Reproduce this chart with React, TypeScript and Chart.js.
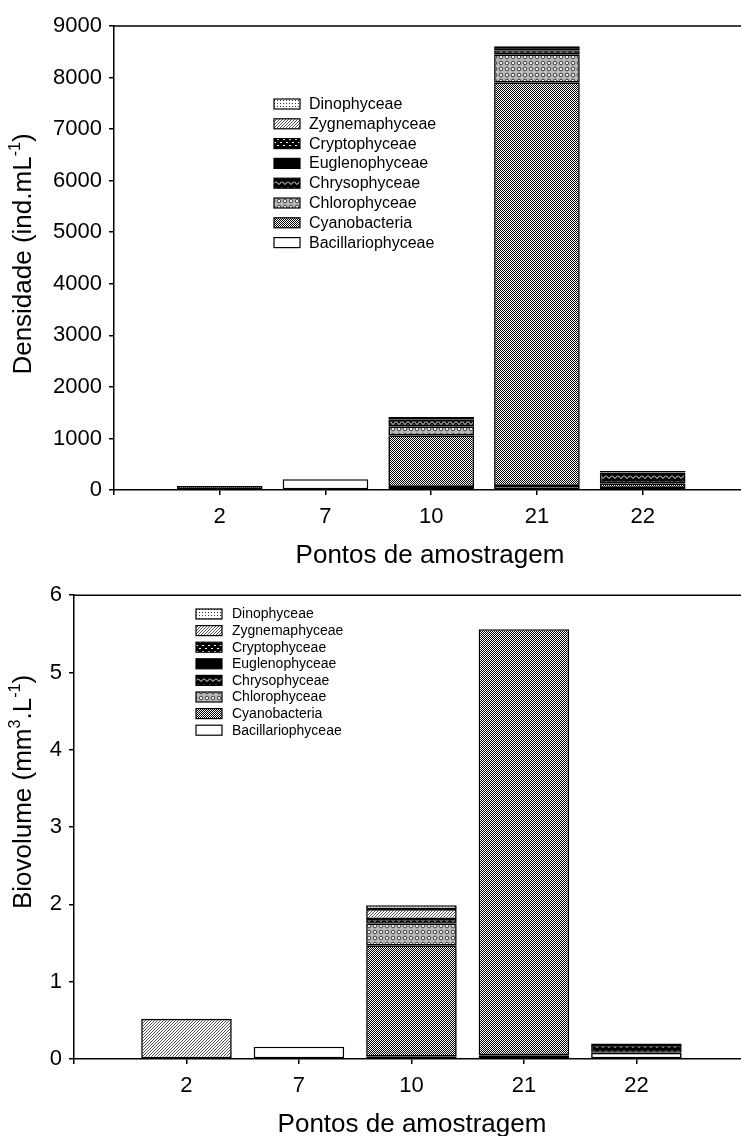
import { useEffect, useRef } from 'react';
import { Chart, registerables } from 'chart.js';

Chart.register(...registerables);

const FAMILY = '"Liberation Sans", Arial, sans-serif';

// Sampling sites along the x axis
const sites = ['2', '7', '10', '21', '22'];

// Phytoplankton groups, bottom of the stack first
const groups = [
  'Bacillariophyceae',
  'Cyanobacteria',
  'Chlorophyceae',
  'Chrysophyceae',
  'Euglenophyceae',
  'Cryptophyceae',
  'Zygnemaphyceae',
  'Dinophyceae',
];

// Density (ind.mL-1) per site
const densBacillariophyceae = [0, 210, 60, 80, 40];
const densCyanobacteria = [80, 0, 1000, 7820, 90];
const densChlorophyceae = [0, 0, 175, 550, 0];
const densChrysophyceae = [0, 0, 130, 80, 210];
const densEuglenophyceae = [0, 0, 0, 0, 0];
const densCryptophyceae = [0, 0, 50, 75, 30];
const densZygnemaphyceae = [0, 0, 0, 0, 0];
const densDinophyceae = [0, 0, 0, 0, 0];

// Biovolume (mm3.L-1) per site
const bioBacillariophyceae = [0, 0.16, 0.03, 0.05, 0.08];
const bioCyanobacteria = [0, 0, 1.44, 5.51, 0];
const bioChlorophyceae = [0, 0, 0.28, 0, 0];
const bioChrysophyceae = [0, 0, 0.06, 0, 0.1];
const bioEuglenophyceae = [0, 0, 0, 0, 0];
const bioCryptophyceae = [0, 0, 0, 0, 0.02];
const bioZygnemaphyceae = [0.52, 0, 0.13, 0, 0];
const bioDinophyceae = [0, 0, 0.05, 0, 0];

const densSeries = [
  densBacillariophyceae,
  densCyanobacteria,
  densChlorophyceae,
  densChrysophyceae,
  densEuglenophyceae,
  densCryptophyceae,
  densZygnemaphyceae,
  densDinophyceae,
];
const bioSeries = [
  bioBacillariophyceae,
  bioCyanobacteria,
  bioChlorophyceae,
  bioChrysophyceae,
  bioEuglenophyceae,
  bioCryptophyceae,
  bioZygnemaphyceae,
  bioDinophyceae,
];

type Fill = string | CanvasPattern;

function tile(w: number, h: number, draw: (g: CanvasRenderingContext2D) => void): CanvasPattern {
  const c = document.createElement('canvas');
  c.width = w;
  c.height = h;
  const g = c.getContext('2d')!;
  draw(g);
  return g.createPattern(c, 'repeat')!;
}

// Monochrome hatch fills, one per group (same order as `groups`)
function makeFills(): Fill[] {
  const bacil = '#ffffff';
  const cyano = tile(2, 2, (g) => {
    g.fillStyle = '#fff';
    g.fillRect(0, 0, 2, 2);
    g.fillStyle = '#000';
    g.fillRect(0, 0, 1, 1);
    g.fillRect(1, 1, 1, 1);
  });
  const chloro = tile(6, 6, (g) => {
    g.fillStyle = '#b8b8b8';
    g.fillRect(0, 0, 6, 6);
    g.strokeStyle = '#444';
    g.lineWidth = 1;
    g.beginPath();
    g.arc(3, 3, 1.8, 0, Math.PI * 2);
    g.stroke();
    g.fillStyle = '#fff';
    g.beginPath();
    g.arc(3, 3, 1.1, 0, Math.PI * 2);
    g.fill();
  });
  const chryso = tile(6, 6, (g) => {
    g.fillStyle = '#000';
    g.fillRect(0, 0, 6, 6);
    g.strokeStyle = '#fff';
    g.lineWidth = 1;
    g.beginPath();
    g.moveTo(0, 1.5);
    g.lineTo(3, 4.5);
    g.lineTo(6, 1.5);
    g.stroke();
  });
  const eugleno = '#000000';
  const crypto = tile(6, 6, (g) => {
    g.fillStyle = '#000';
    g.fillRect(0, 0, 6, 6);
    g.fillStyle = '#fff';
    g.fillRect(1, 1, 2, 1);
    g.fillRect(4, 4, 2, 1);
  });
  const zygnema = tile(3, 3, (g) => {
    g.fillStyle = '#fff';
    g.fillRect(0, 0, 3, 3);
    g.fillStyle = '#555';
    for (let i = 0; i < 3; i++) g.fillRect(i, 2 - i, 1, 1);
  });
  const dino = tile(3, 3, (g) => {
    g.fillStyle = '#fff';
    g.fillRect(0, 0, 3, 3);
    g.fillStyle = '#333';
    g.fillRect(1, 1, 1, 1);
  });
  return [bacil, cyano, chloro, chryso, eugleno, crypto, zygnema, dino];
}

type Part = { t: string; sup?: boolean };

interface Layout {
  padTop: number;
  yWidth: number;
  xHeight: number;
  yMax: number;
  yStep: number;
  xMax: number;
  barPct: number;
  legendX: number;
  legendY: number;
  legendStep: number;
  legendFont: number;
  legendTextX: number;
  yTitle: Part[];
  yTitleX: number;
  yTitleY: number;
  xTitle: string;
  xTitleX: number;
  xTitleY: number;
}

function drawRich(ctx: CanvasRenderingContext2D, parts: Part[], size: number) {
  const supSize = size * 0.62;
  const widths = parts.map((p) => {
    ctx.font = `${p.sup ? supSize : size}px ${FAMILY}`;
    return ctx.measureText(p.t).width;
  });
  const total = widths.reduce((a, b) => a + b, 0);
  let x = -total / 2;
  const base = size * 0.36;
  ctx.textBaseline = 'alphabetic';
  ctx.textAlign = 'left';
  parts.forEach((p, i) => {
    ctx.font = `${p.sup ? supSize : size}px ${FAMILY}`;
    ctx.fillText(p.t, x, p.sup ? base - size * 0.42 : base);
    x += widths[i];
  });
}

function decorPlugin(L: Layout) {
  return {
    id: 'decor',
    afterDraw(chart: Chart) {
      const { ctx, chartArea } = chart;
      ctx.save();
      ctx.fillStyle = '#000';
      ctx.strokeStyle = '#000';

      // frame line along the top of the plot
      ctx.lineWidth = 1.5;
      ctx.beginPath();
      ctx.moveTo(chartArea.left, chartArea.top);
      ctx.lineTo(chartArea.right, chartArea.top);
      ctx.stroke();

      // legend, last group on top
      const ds = chart.data.datasets;
      ctx.font = `${L.legendFont}px ${FAMILY}`;
      ctx.textBaseline = 'middle';
      ctx.textAlign = 'left';
      for (let k = 0; k < ds.length; k++) {
        const d = ds[ds.length - 1 - k];
        const y = L.legendY + k * L.legendStep;
        ctx.fillStyle = d.backgroundColor as any;
        ctx.fillRect(L.legendX, y, 26, 10);
        ctx.lineWidth = 1.2;
        ctx.strokeStyle = '#000';
        ctx.strokeRect(L.legendX, y, 26, 10);
        ctx.fillStyle = '#000';
        ctx.fillText(String(d.label), L.legendTextX, y + 5.5);
      }

      // axis titles
      ctx.font = `26px ${FAMILY}`;
      ctx.textAlign = 'center';
      ctx.textBaseline = 'alphabetic';
      ctx.fillText(L.xTitle, L.xTitleX, L.xTitleY);

      ctx.translate(L.yTitleX, L.yTitleY);
      ctx.rotate(-Math.PI / 2);
      drawRich(ctx, L.yTitle, 26);
      ctx.restore();
    },
  };
}

function buildChart(canvas: HTMLCanvasElement, series: number[][], fills: Fill[], L: Layout) {
  const datasets = series.map((vals, gi) => ({
    label: groups[gi],
    data: vals.map((v, i) => ({ x: i + 1, y: v > 0 ? v : null })),
    backgroundColor: fills[gi] as any,
    borderColor: '#000',
    borderWidth: 1.6,
    borderSkipped: false as const,
    barPercentage: L.barPct,
    categoryPercentage: 1,
  }));

  return new Chart(canvas, {
    type: 'bar',
    data: { datasets: datasets as any },
    options: {
      animation: false,
      responsive: false,
      maintainAspectRatio: false,
      events: [],
      layout: { padding: { top: L.padTop, left: 0, right: 0, bottom: 0 } },
      plugins: {
        legend: { display: false },
        tooltip: { enabled: false },
        title: { display: false },
      },
      scales: {
        x: {
          type: 'linear',
          stacked: true,
          offset: false,
          min: 0,
          max: L.xMax,
          afterBuildTicks: (s: any) => {
            s.ticks = [0, 1, 2, 3, 4, 5].map((v) => ({ value: v }));
          },
          afterFit: (s: any) => {
            s.height = L.xHeight;
          },
          ticks: {
            autoSkip: false,
            maxRotation: 0,
            padding: 9,
            color: '#000',
            font: { size: 22, family: FAMILY },
            callback: (v: any) => sites[Number(v) - 1] ?? '',
          },
          grid: {
            display: true,
            offset: false,
            drawOnChartArea: false,
            drawTicks: true,
            tickLength: 5,
            color: '#000',
            lineWidth: 1.5,
          },
          border: { display: true, color: '#000', width: 1.5 },
        },
        y: {
          type: 'linear',
          stacked: true,
          min: 0,
          max: L.yMax,
          afterFit: (s: any) => {
            s.width = L.yWidth;
          },
          ticks: {
            stepSize: L.yStep,
            padding: 7,
            color: '#000',
            font: { size: 22, family: FAMILY },
            callback: (v: any) => String(v),
          },
          grid: {
            display: true,
            drawOnChartArea: false,
            drawTicks: true,
            tickLength: 5,
            color: '#000',
            lineWidth: 1.5,
          },
          border: { display: true, color: '#000', width: 1.5 },
        },
      },
    },
    plugins: [decorPlugin(L)],
  });
}

export default function App() {
  const topRef = useRef<HTMLCanvasElement>(null);
  const botRef = useRef<HTMLCanvasElement>(null);

  useEffect(() => {
    const fills = makeFills();
    const top = buildChart(topRef.current!, densSeries, fills, {
      padTop: 26,
      yWidth: 114,
      xHeight: 85,
      yMax: 9000,
      yStep: 1000,
      xMax: 5.93,
      barPct: 0.81,
      legendX: 274,
      legendY: 99,
      legendStep: 19.8,
      legendFont: 16,
      legendTextX: 309,
      yTitle: [{ t: 'Densidade (ind.mL' }, { t: '-1', sup: true }, { t: ')' }],
      yTitleX: 22,
      yTitleY: 254,
      xTitle: 'Pontos de amostragem',
      xTitleX: 430,
      xTitleY: 563,
    });
    const bottom = buildChart(botRef.current!, bioSeries, fills, {
      padTop: 18,
      yWidth: 74,
      xHeight: 77,
      yMax: 6,
      yStep: 1,
      xMax: 5.93,
      barPct: 0.805,
      legendX: 196,
      legendY: 34,
      legendStep: 16.6,
      legendFont: 14,
      legendTextX: 232,
      yTitle: [{ t: 'Biovolume (mm' }, { t: '3', sup: true }, { t: '.L' }, { t: '-1', sup: true }, { t: ')' }],
      yTitleX: 22,
      yTitleY: 217,
      xTitle: 'Pontos de amostragem',
      xTitleX: 412,
      xTitleY: 557,
    });
    return () => {
      top.destroy();
      bottom.destroy();
    };
  }, []);

  return (
    <div style={{ position: 'absolute', left: 0, top: 0, width: 741, height: 1136, background: '#fff' }}>
      <canvas ref={topRef} width={741} height={575} style={{ position: 'absolute', left: 0, top: 0 }} />
      <canvas ref={botRef} width={741} height={561} style={{ position: 'absolute', left: 0, top: 575 }} />
    </div>
  );
}
